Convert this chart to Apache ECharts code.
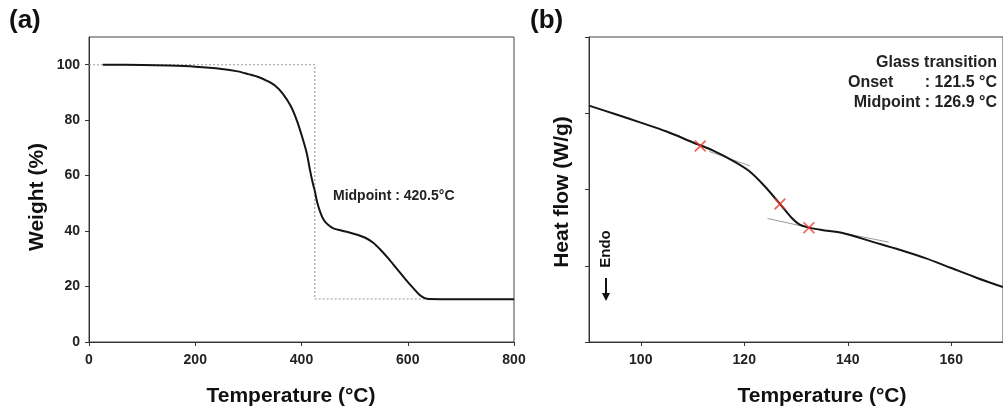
<!DOCTYPE html>
<html>
<head>
<meta charset="utf-8">
<script src="https://cdn.jsdelivr.net/npm/echarts@6/dist/echarts.min.js"></script>
<style>html,body{margin:0;padding:0;background:#fff;}#c{width:1003px;height:406px;}</style>
</head>
<body>
<div id="c"></div>
<script>
// ---- Panel (a): TGA ----
const tgaTemp = [26, 100, 150, 200, 250, 280, 300, 320, 335, 350, 365, 380, 392, 402, 410, 416, 421, 425, 430, 436, 442, 450, 460, 475, 490, 505, 520, 535, 550, 565, 580, 595, 610, 622, 632, 640, 700, 800];
const tgaWeight = [100, 99.9, 99.7, 99.3, 98.5, 97.6, 96.6, 95.5, 94.2, 92.5, 89.5, 85, 79.5, 73.5, 68, 62, 57.5, 54.5, 50, 46.5, 44, 42.3, 41, 40.2, 39.5, 38.7, 37.6, 35.8, 33, 29.8, 26.3, 22.8, 19.5, 17, 15.8, 15.5, 15.4, 15.4];
const guideTemp = [0, 425, 425, 640];
const guideWeight = [100, 100, 15.5, 15.5];
const tgaXTicks = [0, 200, 400, 600, 800];
const tgaYTicks = [0, 20, 40, 60, 80, 100];
const tgaLabel = 'Midpoint : 420.5°C';

// ---- Panel (b): DSC ----
const dscTemp = [90, 95, 100, 105, 110, 114, 118, 121, 124, 126.9, 129, 130.8, 132.5, 135, 139, 145, 150, 155, 160, 165, 170];
const dscFlow = [3.10, 2.99, 2.877, 2.76, 2.62, 2.51, 2.37, 2.24, 2.04, 1.81, 1.64, 1.535, 1.50, 1.47, 1.43, 1.31, 1.21, 1.10, 0.97, 0.84, 0.72];
const markTemp = [111.5, 126.9, 132.5];
const markFlow = [2.57, 1.81, 1.50];
const tan1Temp = [113.2, 121.1], tan1Flow = [2.50, 2.31];
const tan2Temp = [124.5, 131.2], tan2Flow = [1.62, 1.52];
const tan3Temp = [139, 147.9], tan3Flow = [1.43, 1.31];
const dscXTicks = [100, 120, 140, 160];
const dscLines = ['Glass transition', 'Onset', ': 121.5 °C', 'Midpoint : 126.9 °C'];

const zip = (a, b) => a.map((v, i) => [v, b[i]]);
const FONT = '"Liberation Sans", Arial, sans-serif';
const AX = '#333';

const chart = echarts.init(document.getElementById('c'), null, {renderer: 'canvas'});

const lbl = (extra) => Object.assign({color: '#222', fontFamily: FONT, fontWeight: 'bold', fontSize: 14}, extra);
const axisBase = {
  axisLine: {show: true, onZero: false, lineStyle: {color: AX, width: 1}},
  splitLine: {show: false}
};

chart.setOption({
  animation: false,
  grid: [
    {left: 89, top: 37, width: 425, height: 305, show: true, borderColor: '#444', borderWidth: 1, containLabel: false},
    {left: 589, top: 37, right: -10, height: 305, show: true, borderColor: '#444', borderWidth: 1, containLabel: false}
  ],
  xAxis: [
    Object.assign({gridIndex: 0, type: 'value', min: 0, max: 800, interval: 200,
        axisTick: {show: true, length: 4, lineStyle: {color: AX}, customValues: tgaXTicks},
        axisLabel: lbl({margin: 11, customValues: tgaXTicks})}, axisBase),
    Object.assign({gridIndex: 1, type: 'value', min: 90, max: 170,
        axisTick: {show: true, length: 4, lineStyle: {color: AX}, customValues: dscXTicks},
        axisLabel: lbl({margin: 11, customValues: dscXTicks})}, axisBase)
  ],
  yAxis: [
    Object.assign({gridIndex: 0, type: 'value', min: 0, max: 110,
        axisTick: {show: true, length: 4, lineStyle: {color: AX}, customValues: tgaYTicks},
        axisLabel: lbl({margin: 9, customValues: tgaYTicks})}, axisBase),
    Object.assign({gridIndex: 1, type: 'value', min: 0, max: 4, interval: 1,
        axisTick: {show: true, length: 4, lineStyle: {color: AX}},
        axisLabel: {show: false}}, axisBase)
  ],
  series: [
    {type: 'line', xAxisIndex: 0, yAxisIndex: 0, data: zip(guideTemp, guideWeight), symbol: 'none',
     lineStyle: {color: '#9a9a9a', width: 1.2, type: [2, 2]}, z: 1},
    {type: 'line', xAxisIndex: 0, yAxisIndex: 0, data: zip(tgaTemp, tgaWeight), symbol: 'none',
     smooth: 0.3, lineStyle: {color: '#151515', width: 2}, z: 3},
    {type: 'line', xAxisIndex: 1, yAxisIndex: 1, data: zip(tan1Temp, tan1Flow), symbol: 'none',
     lineStyle: {color: '#999', width: 1}, z: 1},
    {type: 'line', xAxisIndex: 1, yAxisIndex: 1, data: zip(tan2Temp, tan2Flow), symbol: 'none',
     lineStyle: {color: '#999', width: 1}, z: 1},
    {type: 'line', xAxisIndex: 1, yAxisIndex: 1, data: zip(tan3Temp, tan3Flow), symbol: 'none',
     lineStyle: {color: '#999', width: 1}, z: 1},
    {type: 'line', xAxisIndex: 1, yAxisIndex: 1, data: zip(dscTemp, dscFlow), symbol: 'none',
     smooth: 0.3, lineStyle: {color: '#151515', width: 2}, z: 3},
    {type: 'scatter', xAxisIndex: 1, yAxisIndex: 1, data: zip(markTemp, markFlow),
     symbol: 'path://M0,1L1,0L5,4L9,0L10,1L6,5L10,9L9,10L5,6L1,10L0,9L4,5Z', symbolSize: 12,
     itemStyle: {color: '#f03a32'}, z: 5}
  ],
  graphic: [
    {type: 'text', left: 9, top: 8, style: {text: '(a)', font: 'bold 26px ' + FONT, fill: '#111'}},
    {type: 'text', left: 530, top: 8, style: {text: '(b)', font: 'bold 26px ' + FONT, fill: '#111'}},
    {type: 'text', x: 37, y: 197, rotation: Math.PI / 2,
     style: {text: 'Weight (%)', font: 'bold 21px ' + FONT, fill: '#111', align: 'center', verticalAlign: 'middle'}},
    {type: 'text', x: 291, y: 396,
     style: {text: 'Temperature (°C)', font: 'bold 21px ' + FONT, fill: '#111', align: 'center', verticalAlign: 'middle'}},
    {type: 'text', x: 822, y: 396,
     style: {text: 'Temperature (°C)', font: 'bold 21px ' + FONT, fill: '#111', align: 'center', verticalAlign: 'middle'}},
    {type: 'text', x: 562, y: 192, rotation: Math.PI / 2,
     style: {text: 'Heat flow (W/g)', font: 'bold 21px ' + FONT, fill: '#111', align: 'center', verticalAlign: 'middle'}},
    {type: 'text', x: 333, y: 196,
     style: {text: tgaLabel, font: 'bold 14px ' + FONT, fill: '#222', align: 'left', verticalAlign: 'middle'}},
    {type: 'text', x: 997, y: 63,
     style: {text: dscLines[0], font: 'bold 16px ' + FONT, fill: '#222', align: 'right', verticalAlign: 'middle'}},
    {type: 'text', x: 848, y: 83,
     style: {text: dscLines[1], font: 'bold 16px ' + FONT, fill: '#222', align: 'left', verticalAlign: 'middle'}},
    {type: 'text', x: 997, y: 83,
     style: {text: dscLines[2], font: 'bold 16px ' + FONT, fill: '#222', align: 'right', verticalAlign: 'middle'}},
    {type: 'text', x: 997, y: 103,
     style: {text: dscLines[3], font: 'bold 16px ' + FONT, fill: '#222', align: 'right', verticalAlign: 'middle'}},
    {type: 'text', x: 606, y: 249, rotation: Math.PI / 2,
     style: {text: 'Endo', font: 'bold 15px ' + FONT, fill: '#111', align: 'center', verticalAlign: 'middle'}},
    {type: 'line', shape: {x1: 606, y1: 278, x2: 606, y2: 295}, style: {stroke: '#111', lineWidth: 2}},
    {type: 'polygon', shape: {points: [[602, 293], [610, 293], [606, 301]]}, style: {fill: '#111'}}
  ]
});
</script>
</body>
</html>
